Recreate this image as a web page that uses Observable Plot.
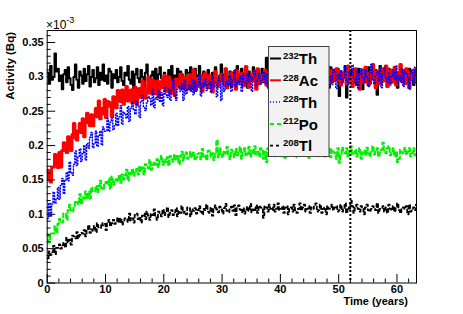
<!DOCTYPE html>
<html><head><meta charset="utf-8">
<script src="https://cdn.jsdelivr.net/npm/d3@7"></script>
<script src="https://cdn.jsdelivr.net/npm/@observablehq/plot@0.6"></script>
<style>body{margin:0;background:#fff} svg{display:block}</style>
</head><body><div id="chart"></div>
<script>
// Histogram bin width (years); activities in units of 1e-3 Bq
const binWidth = 0.25;

const th232 = [
.306,.290,.316,.296,.300,.334,.308,.312,.294,.302,
.282,.304,.310,.292,.314,.298,.288,.281,.300,.318,
.296,.284,.308,.302,.290,.312,.294,.304,.316,.286,
.300,.310,.292,.298,.314,.288,.306,.296,.318,.294,
.302,.290,.312,.308,.284,.304,.298,.310,.292,.300,
.314,.294,.288,.306,.302,.316,.296,.290,.308,.282,
.304,.312,.298,.292,.310,.300,.286,.306,.318,.296,
.290,.302,.308,.294,.312,.284,.304,.314,.298,.292,
.306,.288,.300,.310,.296,.316,.290,.302,.294,.312,
.286,.308,.304,.298,.282,.310,.306,.292,.314,.300,
.296,.312,.290,.302,.316,.294,.298,.308,.288,.304,
.310,.284,.300,.306,.292,.314,.296,.288,.302,.318,
.294,.304,.312,.290,.300,.308,.286,.306,.298,.310,
.316,.292,.296,.312,.288,.302,.306,.284,.308,.300,
.298,.314,.294,.304,.310,.290,.296,.312,.292,.302,
.328,.288,.306,.300,.294,.308,.286,.304,.312,.298,
.292,.310,.302,.284,.306,.314,.296,.290,.300,.308,
.304,.294,.316,.288,.302,.298,.310,.292,.306,.286,
.312,.300,.296,.308,.290,.304,.318,.294,.288,.302,
.306,.298,.310,.284,.314,.292,.300,.304,.296,.312,
.272,.308,.294,.302,.316,.270,.304,.298,.310,.292,
.300,.306,.288,.312,.296,.302,.282,.308,.304,.294,
.314,.290,.300,.306,.298,.310,.274,.304,.316,.292,
.302,.296,.308,.286,.312,.300,.294,.310,.298,.306,
.284,.304,.314,.292,.302,.310,.294,.300,.312,.296,
.308,.288,.298,.306];

const ac228 = [
.164,.150,.147,.169,.169,.187,.171,.168,.190,.169,
.193,.204,.193,.190,.213,.204,.193,.216,.232,.211,
.208,.222,.232,.219,.239,.213,.235,.247,.233,.229,
.245,.229,.244,.254,.242,.265,.239,.254,.246,.267,
.241,.264,.263,.257,.242,.271,.268,.255,.280,.267,
.264,.281,.260,.271,.286,.265,.270,.281,.262,.280,
.285,.260,.278,.283,.270,.294,.275,.269,.284,.299,
.276,.286,.295,.275,.284,.294,.271,.293,.284,.298,
.302,.279,.283,.300,.276,.290,.294,.273,.297,.289,
.288,.304,.284,.293,.299,.281,.287,.303,.282,.292,
.310,.280,.298,.292,.286,.302,.279,.297,.305,.291,
.284,.302,.294,.278,.300,.308,.292,.286,.296,.304,
.300,.290,.312,.284,.298,.294,.306,.288,.302,.282,
.309,.297,.293,.305,.287,.301,.315,.291,.285,.299,
.304,.296,.308,.282,.312,.290,.298,.302,.294,.310,
.288,.306,.292,.300,.314,.284,.302,.296,.308,.290,
.299,.305,.287,.311,.295,.301,.281,.307,.303,.293,
.313,.289,.299,.305,.297,.309,.287,.303,.315,.291,
.300,.294,.306,.284,.310,.298,.292,.308,.296,.304,
.284,.304,.314,.292,.302,.310,.294,.300,.312,.296,
.308,.288,.298,.306,.306,.290,.316,.296,.300,.286,
.308,.312,.294,.302,.282,.304,.310,.292,.314,.298,
.288,.306,.300,.318,.296,.284,.308,.302,.290,.312,
.294,.304,.316,.286,.300,.310,.292,.298,.314,.288,
.306,.296,.318,.294,.302,.290,.312,.308,.284,.304,
.298,.310,.292,.300];

const th228 = [
.094,.116,.097,.115,.132,.116,.123,.139,.122,.142,
.152,.130,.150,.161,.149,.176,.160,.157,.173,.192,
.171,.184,.195,.177,.188,.200,.179,.203,.196,.212,
.219,.197,.203,.221,.199,.215,.221,.201,.227,.221,
.221,.239,.221,.234,.240,.223,.229,.247,.229,.242,
.258,.231,.249,.246,.240,.257,.235,.254,.263,.252,
.246,.265,.258,.241,.264,.273,.256,.251,.262,.271,
.268,.259,.282,.255,.270,.267,.280,.264,.277,.258,
.285,.275,.270,.283,.266,.282,.295,.273,.266,.282,
.285,.279,.290,.266,.295,.275,.282,.288,.279,.297,
.274,.294,.279,.289,.302,.272,.291,.285,.297,.280,
.288,.294,.278,.301,.285,.291,.271,.298,.294,.266,
.303,.279,.289,.295,.287,.301,.279,.295,.309,.285,
.295,.289,.301,.279,.305,.293,.287,.305,.293,.301,
.279,.299,.309,.287,.297,.305,.289,.295,.307,.291,
.305,.283,.295,.303,
.302,.286,.312,.292,.296,.282,.306,.310,.292,.300,
.279,.301,.307,.289,.311,.295,.285,.303,.297,.315,
.295,.283,.307,.301,.289,.311,.293,.303,.315,.285,
.300,.310,.292,.298,.314,.288,.306,.296,.318,.294,
.301,.289,.311,.307,.283,.303,.297,.309,.291,.299,
.315,.295,.289,.307,.303,.317,.297,.291,.309,.283,
.304,.312,.298,.292,.310,.300,.286,.306,.318,.296,
.290,.302,.308,.294,.312,.284,.304,.314,.298,.292,
.306,.288,.300,.310,.296,.316,.290,.302,.294,.312,
.286,.308,.304,.298,.282,.310,.306,.292,.314,.300];

const po212 = [
.071,.059,.072,.072,.072,.083,.073,.086,.093,.088,
.088,.101,.100,.092,.106,.114,.106,.104,.112,.119,
.118,.115,.129,.115,.125,.123,.133,.123,.133,.123,
.139,.134,.133,.141,.132,.141,.149,.138,.136,.145,
.147,.143,.152,.137,.155,.143,.149,.151,.148,.157,
.146,.158,.151,.157,.165,.149,.160,.157,.166,.156,
.162,.166,.158,.170,.163,.168,.158,.173,.171,.167,
.179,.165,.172,.176,.172,.180,.169,.178,.185,.172,
.179,.176,.183,.171,.185,.180,.177,.187,.179,.185,
.173,.185,.191,.178,.186,.190,.181,.184,.191,.183,
.190,.179,.183,.188,
.189,.180,.195,.184,.186,.179,.192,.193,.184,.189,
.179,.190,.208,.183,.196,.187,.183,.192,.189,.198,
.187,.180,.194,.191,.183,.195,.186,.191,.198,.181,
.190,.196,.185,.188,.198,.184,.193,.188,.199,.187,
.191,.184,.196,.194,.181,.191,.176,.196,.186,.190,
.197,.187,.184,.193,.191,.199,.189,.184,.194,.181,
.191,.196,.189,.186,.196,.190,.183,.193,.199,.189,
.184,.191,.194,.187,.196,.181,.205,.197,.189,.186,
.193,.184,.190,.196,.189,.199,.184,.191,.187,.196,
.183,.194,.191,.189,.181,.196,.175,.186,.197,.190,
.189,.196,.184,.191,.199,.187,.189,.194,.184,.191,
.196,.181,.190,.193,.186,.197,.189,.184,.191,.199,
.187,.191,.196,.184,.190,.194,.204,.193,.189,.196,
.199,.186,.189,.196,.184,.191,.176,.181,.194,.190,
.189,.197,.187,.191,.196,.184,.189,.196,.186,.191];

const tl208 = [
.036,.046,.041,.045,.054,.042,.051,.051,.056,.050,
.055,.059,.052,.066,.059,.063,.056,.069,.068,.065,
.074,.065,.070,.073,.072,.077,.068,.077,.084,.073,
.078,.076,.083,.074,.087,.081,.080,.087,.084,.086,
.077,.088,.092,.083,.087,.092,.086,.089,.095,.088,
.094,.085,.091,.094,
.094,.089,.101,.091,.094,.088,.099,.101,.093,.096,
.088,.098,.101,.093,.104,.098,.092,.101,.099,.107,
.098,.092,.104,.100,.097,.107,.099,.103,.110,.096,
.102,.106,.099,.103,.109,.097,.105,.102,.112,.102,
.104,.100,.110,.109,.097,.107,.105,.109,.101,.106,
.112,.104,.100,.108,.106,.114,.104,.102,.110,.098,
.109,.113,.107,.103,.111,.107,.101,.109,.115,.105,
.103,.107,.111,.105,.113,.099,.109,.113,.107,.103,
.109,.101,.107,.111,.105,.115,.103,.107,.105,.113,
.102,.112,.110,.108,.095,.112,.110,.104,.114,.108,
.106,.114,.104,.108,.116,.106,.108,.112,.102,.110,
.112,.100,.108,.110,.104,.114,.106,.102,.108,.116,
.106,.110,.114,.104,.108,.112,.102,.110,.108,.112,
.116,.104,.106,.114,.102,.108,.110,.100,.112,.108,
.108,.114,.106,.110,.112,.104,.106,.114,.104,.108,
.116,.102,.110,.108,.120,.112,.102,.110,.114,.108,
.104,.112,.108,.100,.110,.114,.106,.104,.108,.112,
.110,.106,.116,.102,.108,.108,.112,.104,.110,.102,
.114,.108,.106,.112,.104,.110,.116,.106,.102,.108,
.110,.108,.112,.100,.114,.104,.108,.110,.106,.114];

const xMajor = [0, 10, 20, 30, 40, 50, 60];
const xMinor = [2,4,6,8,12,14,16,18,22,24,26,28,32,34,36,38,42,44,46,48,52,54,56,58,62];
const yMajor = [0, 0.05, 0.1, 0.15, 0.2, 0.25, 0.3, 0.35];
const yTickLabels = ["0","0.05","0.1","0.15","0.2","0.25","0.3","0.35"];
const yMinor = [0.01,0.02,0.03,0.04,0.06,0.07,0.08,0.09,0.11,0.12,0.13,0.14,0.16,0.17,0.18,0.19,0.21,0.22,0.23,0.24,0.26,0.27,0.28,0.29,0.31,0.32,0.33,0.34,0.36];
const markerYear = [52];

const series = [
  {mass:"232", el:"Th", values: th232, stroke:"#000000", width:2,   dash:null},
  {mass:"228", el:"Ac", values: ac228, stroke:"#ff0000", width:3,   dash:null},
  {mass:"228", el:"Th", values: th228, stroke:"#0000ff", width:1.5, dash:"1 2"},
  {mass:"212", el:"Po", values: po212, stroke:"#00f000", width:2,   dash:"4 3"},
  {mass:"208", el:"Tl", values: tl208, stroke:"#000000", width:1.8, dash:"3 3"}
];

function table(values) {
  const rows = values.map((v, i) => ({t: i * binWidth, v}));
  rows.push({t: values.length * binWidth, v: values[values.length - 1]});
  return rows;
}

const font = "Liberation Sans, Arial, Helvetica, sans-serif";

const svg = Plot.plot({
  width: 463, height: 314,
  marginLeft: 46.7, marginRight: 47, marginTop: 30, marginBottom: 31.5,
  style: {fontFamily: font, fontSize: "11px", background: "#fff", color: "#000"},
  x: {domain: [0, 63.35]},
  y: {domain: [0, 0.3675]},
  marks: [
    ...series.map(s => Plot.line(table(s.values), {
      x: "t", y: "v", curve: "step-after", clip: true,
      stroke: s.stroke, strokeWidth: s.width, strokeDasharray: s.dash
    })),
    Plot.ruleX(markerYear, {stroke: "#000", strokeWidth: 2, strokeDasharray: "2 2"}),
    Plot.frame({stroke: "#000", strokeWidth: 1}),
    Plot.axisX(xMajor, {tickSize: -8.5, tickPadding: 11, label: null, fontWeight: "bold", fontSize: 11}),
    Plot.axisX(xMinor, {tickSize: -4, tickFormat: () => "", label: null}),
    Plot.axisY(yMajor, {tickSize: -8.5, tickPadding: 12, label: null, fontWeight: "bold", fontSize: 11,
      tickFormat: d => yTickLabels[yMajor.indexOf(d)]}),
    Plot.axisY(yMinor, {tickSize: -4, tickFormat: () => "", label: null})
  ]
});

const S = d3.select(svg);
// axis titles
S.append("text").attr("x", 408).attr("y", 305).attr("text-anchor", "end")
  .attr("font-family", font).attr("font-size", 11).attr("font-weight", "bold").text("Time (years)");
S.append("text").attr("transform", "translate(14,32) rotate(-90)").attr("text-anchor", "end")
  .attr("font-family", font).attr("font-size", 11.5).attr("font-weight", "bold").text("Activity (Bq)");
// exponent
const ex = S.append("text").attr("x", 46).attr("y", 29).attr("text-anchor", "start")
  .attr("font-family", font).attr("font-size", 12);
ex.append("tspan").text("×10");
ex.append("tspan").attr("dy", -6).attr("font-size", 9).text("-3");

// legend
const lg = S.append("g");
lg.append("rect").attr("x", 268.5).attr("y", 46.5).attr("width", 60.5).attr("height", 110)
  .attr("fill", "#f2f2f2").attr("stroke", "#444").attr("stroke-width", 1);
series.forEach((s, i) => {
  const yl = 58.5 + i * 21.8;
  lg.append("line").attr("x1", 270).attr("x2", 281).attr("y1", yl).attr("y2", yl)
    .attr("stroke", s.stroke).attr("stroke-width", s.width === 3 ? 2 : s.width)
    .attr("stroke-dasharray", s.dash);
  const t = lg.append("text").attr("x", 283).attr("y", yl + 5.7).attr("text-anchor", "start")
    .attr("font-family", font).attr("font-weight", "bold").attr("font-size", 15);
  t.append("tspan").attr("font-size", 9.5).attr("dy", -5.5).text(s.mass);
  t.append("tspan").attr("dy", 5.5).text(s.el);
});

document.getElementById("chart").appendChild(svg);
</script>
</body></html>
